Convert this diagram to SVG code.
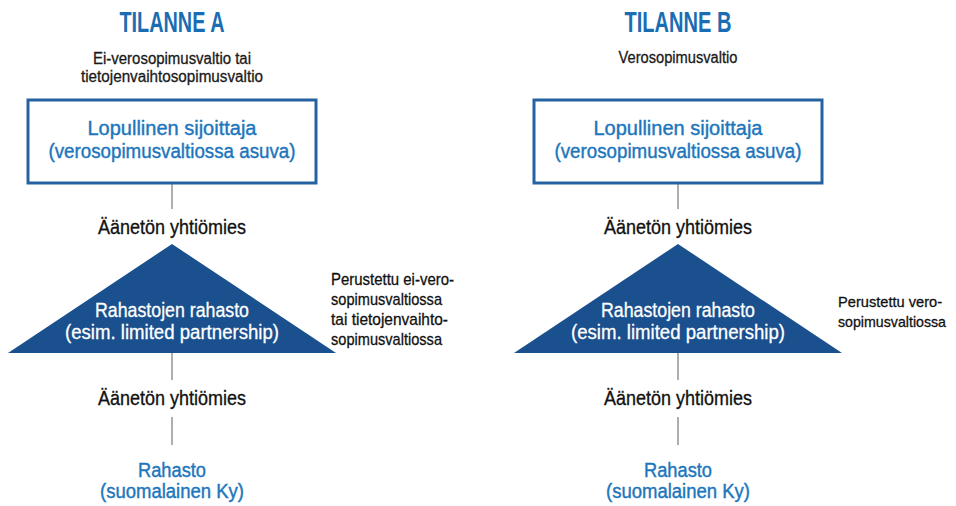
<svg xmlns="http://www.w3.org/2000/svg" width="956" height="506" viewBox="0 0 956 506">
<defs>
<style>
text{font-family:"Liberation Sans Narrow","Liberation Sans",Arial,sans-serif;}
.title{font-size:29px;font-weight:bold;fill:#1b6db3;text-anchor:middle;}
.sub{font-size:16px;fill:#1a1a1a;stroke:#1a1a1a;stroke-width:0.3;text-anchor:middle;}
.box{fill:#ffffff;stroke:#2662a2;stroke-width:3;}
.btxt{font-size:20px;fill:#1d76bc;stroke:#1d76bc;stroke-width:0.4;text-anchor:middle;}
.lbl{font-size:21px;fill:#111111;stroke:#111111;stroke-width:0.35;text-anchor:middle;}
.tri{fill:#1a508d;}
.ttxt{font-size:20px;fill:#ffffff;stroke:#ffffff;stroke-width:0.3;text-anchor:middle;}
.side{font-size:17px;fill:#111111;stroke:#111111;stroke-width:0.3;}
.sideb{font-size:15px;fill:#111111;stroke:#111111;stroke-width:0.3;}
.conn{stroke:#9a9a9a;stroke-width:1.6;fill:none;}
</style>
</defs>
<g id="connectors">
<line class="conn" x1="172" y1="184" x2="172" y2="209"/>
<line class="conn" x1="172" y1="353" x2="172" y2="380"/>
<line class="conn" x1="172" y1="417" x2="172" y2="445"/>
<line class="conn" x1="678" y1="184" x2="678" y2="209"/>
<line class="conn" x1="678" y1="353" x2="678" y2="380"/>
<line class="conn" x1="678" y1="417" x2="678" y2="445"/>
</g>
<g id="headerA">
<text class="title" x="172" y="32" textLength="105" lengthAdjust="spacingAndGlyphs">TILANNE A</text>
<text class="sub" x="172" y="64" textLength="158" lengthAdjust="spacingAndGlyphs">Ei-verosopimusvaltio tai</text>
<text class="sub" x="172" y="82" textLength="182" lengthAdjust="spacingAndGlyphs">tietojenvaihtosopimusvaltio</text>
</g>
<g id="investorA">
<rect class="box" x="28" y="100" width="288" height="83"/>
<text class="btxt" x="172" y="135" textLength="169" lengthAdjust="spacingAndGlyphs">Lopullinen sijoittaja</text>
<text class="btxt" x="172" y="158" textLength="247" lengthAdjust="spacingAndGlyphs">(verosopimusvaltiossa asuva)</text>
</g>
<g id="partnerA1">
<text class="lbl" x="172" y="234" textLength="148" lengthAdjust="spacingAndGlyphs">Äänetön yhtiömies</text>
</g>
<g id="fofA">
<polygon class="tri" points="172,244 336,353 8,353"/>
<text class="ttxt" x="172" y="317" textLength="154" lengthAdjust="spacingAndGlyphs">Rahastojen rahasto</text>
<text class="ttxt" x="172" y="339" textLength="214" lengthAdjust="spacingAndGlyphs">(esim. limited partnership)</text>
</g>
<g id="noteA">
<text class="side" x="331" y="285" textLength="123" lengthAdjust="spacingAndGlyphs">Perustettu ei-vero-</text>
<text class="side" x="331" y="305" textLength="111" lengthAdjust="spacingAndGlyphs">sopimusvaltiossa</text>
<text class="side" x="331" y="325" textLength="117" lengthAdjust="spacingAndGlyphs">tai tietojenvaihto-</text>
<text class="side" x="331" y="345" textLength="111" lengthAdjust="spacingAndGlyphs">sopimusvaltiossa</text>
</g>
<g id="partnerA2">
<text class="lbl" x="172" y="405" textLength="148" lengthAdjust="spacingAndGlyphs">Äänetön yhtiömies</text>
</g>
<g id="fundA">
<text class="btxt" x="172" y="477" textLength="68" lengthAdjust="spacingAndGlyphs">Rahasto</text>
<text class="btxt" x="172" y="498" textLength="144" lengthAdjust="spacingAndGlyphs">(suomalainen Ky)</text>
</g>
<g id="headerB">
<text class="title" x="678" y="32" textLength="107" lengthAdjust="spacingAndGlyphs">TILANNE B</text>
<text class="sub" x="678" y="63" textLength="119" lengthAdjust="spacingAndGlyphs">Verosopimusvaltio</text>
</g>
<g id="investorB">
<rect class="box" x="534" y="100" width="288" height="83"/>
<text class="btxt" x="678" y="135" textLength="169" lengthAdjust="spacingAndGlyphs">Lopullinen sijoittaja</text>
<text class="btxt" x="678" y="158" textLength="247" lengthAdjust="spacingAndGlyphs">(verosopimusvaltiossa asuva)</text>
</g>
<g id="partnerB1">
<text class="lbl" x="678" y="234" textLength="148" lengthAdjust="spacingAndGlyphs">Äänetön yhtiömies</text>
</g>
<g id="fofB">
<polygon class="tri" points="678,244 842,353 514,353"/>
<text class="ttxt" x="678" y="317" textLength="154" lengthAdjust="spacingAndGlyphs">Rahastojen rahasto</text>
<text class="ttxt" x="678" y="339" textLength="214" lengthAdjust="spacingAndGlyphs">(esim. limited partnership)</text>
</g>
<g id="noteB">
<text class="sideb" x="838" y="307" textLength="104" lengthAdjust="spacingAndGlyphs">Perustettu vero-</text>
<text class="sideb" x="838" y="327" textLength="108" lengthAdjust="spacingAndGlyphs">sopimusvaltiossa</text>
</g>
<g id="partnerB2">
<text class="lbl" x="678" y="405" textLength="148" lengthAdjust="spacingAndGlyphs">Äänetön yhtiömies</text>
</g>
<g id="fundB">
<text class="btxt" x="678" y="477" textLength="68" lengthAdjust="spacingAndGlyphs">Rahasto</text>
<text class="btxt" x="678" y="498" textLength="144" lengthAdjust="spacingAndGlyphs">(suomalainen Ky)</text>
</g>
</svg>
